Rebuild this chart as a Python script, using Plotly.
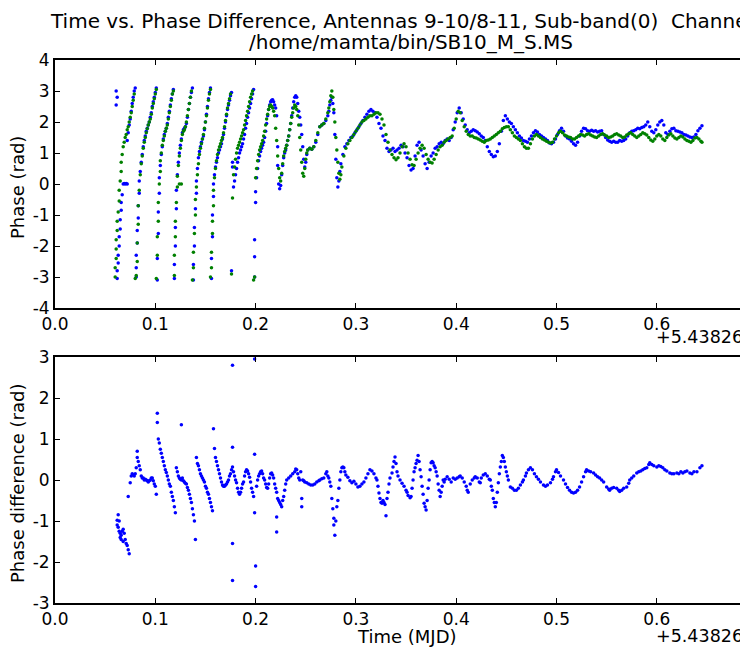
import plotly.graph_objects as go

# ---------------- data ----------------
# Top panel: phase of baseline 9-10 (blue) and 8-11 (green), time offset from 5.43826e4 MJD
blue_time = [
    # ramp 1
    0.061, 0.061, 0.062, 0.062, 0.062, 0.063, 0.063, 0.064, 0.064, 0.065,
    0.065, 0.066, 0.066, 0.067, 0.068, 0.069, 0.070, 0.071, 0.072, 0.072,
    0.073, 0.074, 0.075, 0.076, 0.077, 0.078, 0.079, 0.080,
    # ramp 2
    0.081, 0.081, 0.081, 0.082, 0.082, 0.083, 0.083, 0.084, 0.084, 0.085,
    0.086, 0.087, 0.088, 0.089, 0.090, 0.091, 0.092, 0.093, 0.094, 0.095,
    0.096, 0.097, 0.098, 0.099, 0.100, 0.101,
    # ramp 3
    0.102, 0.102, 0.103, 0.103, 0.104, 0.104, 0.105, 0.106, 0.107, 0.108,
    0.109, 0.110, 0.111, 0.112, 0.113, 0.114, 0.115, 0.116, 0.117, 0.118,
    # ramp 4
    0.119, 0.119, 0.120, 0.120, 0.121, 0.121, 0.122, 0.123, 0.124, 0.125,
    0.126, 0.127, 0.128, 0.129, 0.130, 0.131, 0.132, 0.133, 0.134, 0.135,
    0.136, 0.137,
    # ramp 5
    0.138, 0.138, 0.139, 0.139, 0.140, 0.141, 0.141, 0.142, 0.143, 0.144,
    0.145, 0.146, 0.147, 0.148, 0.149, 0.150, 0.151, 0.152, 0.153, 0.154,
    0.155,
    # ramp 6
    0.156, 0.156, 0.157, 0.157, 0.158, 0.158, 0.159, 0.160, 0.161, 0.162,
    0.163, 0.164, 0.165, 0.166, 0.167, 0.168, 0.169, 0.170, 0.171, 0.172,
    0.173, 0.174, 0.175, 0.176,
    # ramp 7
    0.176, 0.177, 0.177, 0.178, 0.179, 0.180, 0.181, 0.182, 0.183, 0.184,
    0.185, 0.186, 0.187, 0.188, 0.189, 0.190, 0.191, 0.192, 0.193, 0.194,
    0.195, 0.196, 0.197, 0.198,
    # ramp 8 and first swings
    0.199, 0.199, 0.199, 0.200, 0.200, 0.201, 0.202, 0.203, 0.204, 0.205,
    0.206, 0.207, 0.208, 0.209, 0.210, 0.211, 0.212, 0.213, 0.214, 0.215,
    0.216, 0.217, 0.218, 0.219, 0.220, 0.221, 0.222, 0.222, 0.223, 0.224,
    0.225, 0.226, 0.227, 0.228, 0.229, 0.230, 0.231, 0.232, 0.233, 0.234,
    0.235, 0.236, 0.237, 0.238, 0.239, 0.240, 0.241, 0.242, 0.243,
    0.244, 0.245, 0.246, 0.247, 0.248, 0.249, 0.250, 0.251, 0.252,
    0.254, 0.256, 0.258, 0.260, 0.262, 0.264, 0.266, 0.268, 0.270, 0.272,
    0.273, 0.274, 0.275, 0.276, 0.277, 0.278, 0.279, 0.280, 0.281, 0.282,
    0.283, 0.284, 0.285,
    # smooth part
    0.287, 0.289, 0.291, 0.293, 0.295, 0.297, 0.299, 0.301, 0.303, 0.305,
    0.307, 0.309, 0.311, 0.313, 0.315, 0.317, 0.319, 0.321, 0.323, 0.325,
    0.327, 0.329, 0.331, 0.333, 0.335, 0.337, 0.339, 0.341, 0.343, 0.345,
    0.347, 0.349, 0.351, 0.353, 0.355, 0.357, 0.359, 0.361, 0.363, 0.365,
    0.367, 0.369, 0.371, 0.373, 0.375, 0.377, 0.379, 0.381, 0.383, 0.385,
    0.387, 0.389, 0.391, 0.393, 0.395, 0.397, 0.399, 0.401, 0.403, 0.405,
    0.407, 0.409, 0.411, 0.413, 0.415, 0.417, 0.419, 0.421, 0.423, 0.425,
    0.427, 0.429, 0.431, 0.433, 0.435, 0.437, 0.439, 0.441, 0.443, 0.445,
    0.447, 0.449, 0.451, 0.453, 0.455, 0.457, 0.459, 0.461, 0.463, 0.465,
    0.467, 0.469, 0.471, 0.473, 0.475, 0.477, 0.479, 0.481, 0.483, 0.485,
    0.487, 0.489, 0.491, 0.493, 0.495, 0.497, 0.499, 0.501, 0.503, 0.505,
    0.507, 0.509, 0.511, 0.513, 0.515, 0.517, 0.519, 0.521, 0.523, 0.525,
    0.527, 0.529, 0.531, 0.533, 0.535, 0.537, 0.539, 0.541, 0.543, 0.545,
    0.547, 0.549, 0.551, 0.553, 0.555, 0.557, 0.559, 0.561, 0.563, 0.565,
    0.567, 0.569, 0.571, 0.573, 0.575, 0.577, 0.579, 0.581, 0.583, 0.585,
    0.587, 0.589, 0.591, 0.593, 0.595, 0.597, 0.599, 0.601, 0.603, 0.605,
    0.607, 0.609, 0.611, 0.613, 0.615, 0.617, 0.619, 0.621, 0.623, 0.625,
    0.627, 0.629, 0.631, 0.633, 0.635, 0.637, 0.639, 0.641, 0.643, 0.645,
]
blue_phase = [
    3.0, 2.55, 2.8, -3.05, -2.8, -2.55, -2.3, -2.0, -1.7, -1.45,
    -1.15, -0.85, -0.6, -0.35, 0.0, 0.02, 0.0, 0.02, 0.0, 1.4,
    1.65, 1.9, 2.1, 2.35, 2.6, 2.8, 3.0, 3.1,
    -3.0, -2.7, -2.3, -1.9, -1.5, -1.1, -0.7, -0.3, 0.1, 0.4,
    0.7, 0.95, 1.2, 1.4, 1.55, 1.7, 1.8, 1.9, 2.0, 2.15,
    2.3, 2.5, 2.65, 2.8, 2.95, 3.1,
    -3.1, -2.4, -1.6, -0.9, -0.3, 0.2, 0.6, 0.95, 1.2, 1.45,
    1.6, 1.7, 1.8, 1.95, 2.15, 2.35, 2.55, 2.75, 2.9, 3.05,
    -3.05, -2.6, -2.0, -1.4, -0.8, -0.2, 0.3, 0.7, 1.0, 1.25,
    1.45, 1.65, 1.75, 1.8, 1.85, 1.95, 2.15, 2.4, 2.6, 2.8,
    2.95, 3.1,
    -3.1, -2.6, -2.0, -1.4, -0.8, -0.3, 0.1, 0.5, 0.85, 1.05,
    1.2, 1.35, 1.45, 1.55, 1.75, 2.0, 2.25, 2.5, 2.75, 2.95,
    3.1,
    -3.05, -2.4, -1.7, -1.0, -0.4, 0.0, 0.3, 0.55, 0.7, 0.85,
    1.0, 1.1, 1.2, 1.3, 1.45, 1.6, 1.8, 2.0, 2.2, 2.4,
    2.55, 2.7, 2.85, 2.95,
    -2.8, 0.7, 0.55, -0.1, 0.1, 0.3, 0.5, 0.7, 0.85, 1.0,
    1.1, 1.2, 1.3, 1.45, 1.6, 1.8, 1.95, 2.15, 2.3, 2.45,
    2.6, 2.75, 2.9, 3.05,
    -3.0, -2.35, -1.8, -0.6, -0.25, 0.2, 0.5, 0.75, 0.9, 1.05,
    1.15, 1.25, 1.35, 1.5, 1.7, 1.95, 2.2, 2.4, 2.55, 2.65,
    2.7, 2.72, 2.65, 2.55, 2.45, 2.2, 1.2, 0.6, 0.0, -0.15,
    -0.05, 0.3, 0.6, 0.85, 1.0, 1.1, 1.25, 1.4, 1.55, 1.75,
    1.95, 2.2, 2.45, 2.65, 2.8, 2.85, 2.8, 2.6, 2.35,
    2.15, 1.9, 1.6, 1.2, 0.8, 0.55, 0.7, 0.95, 1.1,
    1.15, 1.12, 1.2, 1.35, 1.6, 1.85, 1.9, 1.95, 2.05, 2.2,
    2.35, 2.55, 2.7, 2.8, 2.6, 2.3, 1.6, 0.8, 0.2, -0.1,
    0.1, 0.4, 0.65,
    0.95, 1.2, 1.3, 1.4, 1.5, 1.55, 1.65, 1.75, 1.85, 1.95,
    2.05, 2.15, 2.25, 2.35, 2.4, 2.35, 2.3, 2.15, 1.95, 1.8,
    1.55, 1.4, 1.15, 1.05, 1.1, 1.15, 1.05, 1.1, 1.15, 1.25,
    1.2, 1.0, 0.85, 0.6, 0.45, 0.5, 0.9, 1.25, 1.35, 1.1,
    0.9, 0.65, 0.5, 0.7, 0.9, 1.0, 1.15, 1.2, 1.3, 1.35,
    1.3, 1.4, 1.45, 1.4, 1.5, 1.75, 2.0, 2.3, 2.45, 2.3,
    2.1, 1.9, 1.75, 1.65, 1.7, 1.75, 1.72, 1.68, 1.62, 1.55,
    1.5, 1.4, 1.2, 1.05, 0.95, 0.88, 0.9, 1.05, 1.3, 1.7,
    2.05, 2.2, 2.1, 2.0, 1.95, 1.85, 1.75, 1.65, 1.55, 1.48,
    1.4, 1.38, 1.35, 1.45, 1.55, 1.65, 1.72, 1.68, 1.6, 1.55,
    1.5, 1.45, 1.4, 1.32, 1.3, 1.35, 1.45, 1.6, 1.72, 1.8,
    1.7, 1.55, 1.48, 1.45, 1.38, 1.3, 1.25, 1.35, 1.55, 1.7,
    1.8, 1.78, 1.72, 1.7, 1.73, 1.7, 1.72, 1.68, 1.7, 1.72,
    1.6, 1.5, 1.42, 1.38, 1.35, 1.38, 1.35, 1.35, 1.4, 1.38,
    1.4, 1.45, 1.55, 1.65, 1.7, 1.72, 1.75, 1.8, 1.78, 1.82,
    1.85, 1.9, 2.0, 1.85, 1.7, 1.65, 1.75, 1.9, 2.0, 2.05,
    1.9, 1.65, 1.6, 1.7, 1.78, 1.8, 1.72, 1.7, 1.68, 1.65,
    1.6, 1.58, 1.55, 1.52, 1.5, 1.52, 1.6, 1.72, 1.8, 1.88,
]

green_time = [
    0.060, 0.060, 0.061, 0.061, 0.061, 0.062, 0.062, 0.063, 0.064, 0.064,
    0.065, 0.066, 0.066, 0.067, 0.068, 0.069, 0.070, 0.071, 0.072, 0.073,
    0.074, 0.075, 0.076, 0.077, 0.078, 0.079,
    0.080, 0.081, 0.082, 0.082, 0.083, 0.083, 0.084, 0.085, 0.086, 0.087,
    0.088, 0.089, 0.090, 0.091, 0.092, 0.093, 0.094, 0.095, 0.096, 0.097,
    0.098, 0.099, 0.100, 0.101,
    0.101, 0.102, 0.102, 0.103, 0.103, 0.104, 0.105, 0.105, 0.106, 0.107,
    0.108, 0.109, 0.110, 0.111, 0.112, 0.113, 0.114, 0.115, 0.116, 0.117,
    0.118,
    0.119, 0.119, 0.120, 0.120, 0.121, 0.122, 0.122, 0.123, 0.124, 0.124,
    0.125, 0.126, 0.126, 0.127, 0.128, 0.129, 0.130, 0.131, 0.132, 0.133,
    0.134, 0.135, 0.136,
    0.137, 0.138, 0.138, 0.139, 0.140, 0.140, 0.141, 0.142, 0.143, 0.144,
    0.145, 0.146, 0.147, 0.148, 0.149, 0.150, 0.151, 0.152, 0.153, 0.154,
    0.155,
    0.155, 0.156, 0.156, 0.157, 0.157, 0.158, 0.158, 0.159, 0.160, 0.161,
    0.162, 0.163, 0.164, 0.165, 0.166, 0.167, 0.168, 0.169, 0.170, 0.171,
    0.172, 0.173, 0.174, 0.175,
    0.176, 0.177, 0.178, 0.179, 0.180, 0.181, 0.182, 0.183, 0.184, 0.185,
    0.186, 0.187, 0.188, 0.189, 0.190, 0.191, 0.192, 0.193, 0.194, 0.195,
    0.196, 0.197,
    0.198, 0.199, 0.200, 0.201, 0.202, 0.203, 0.204, 0.205, 0.206, 0.207,
    0.208, 0.209, 0.210, 0.211, 0.212, 0.213, 0.214, 0.215, 0.216, 0.217,
    0.218, 0.219, 0.220, 0.221, 0.222, 0.223, 0.224, 0.225, 0.226, 0.227,
    0.228, 0.229, 0.230, 0.231, 0.232, 0.233, 0.234, 0.235, 0.236, 0.237,
    0.238, 0.239, 0.240, 0.241, 0.242, 0.243, 0.244, 0.245, 0.246, 0.247,
    0.248, 0.249,
    0.250, 0.251, 0.252, 0.254, 0.256, 0.258, 0.260, 0.262, 0.264, 0.266,
    0.268, 0.270, 0.272, 0.273, 0.274, 0.275, 0.276, 0.277, 0.278, 0.279,
    0.280, 0.281, 0.282, 0.283, 0.284, 0.285, 0.286,
    0.288, 0.290, 0.292, 0.294, 0.296, 0.298, 0.300, 0.302, 0.304, 0.306,
    0.308, 0.310, 0.312, 0.314, 0.316, 0.318, 0.320, 0.322, 0.324, 0.326,
    0.328, 0.330, 0.332, 0.334, 0.336, 0.338, 0.340, 0.342, 0.344, 0.346,
    0.348, 0.350, 0.352, 0.354, 0.356, 0.358, 0.360, 0.362, 0.364, 0.366,
    0.368, 0.370, 0.372, 0.374, 0.376, 0.378, 0.380, 0.382, 0.384, 0.386,
    0.388, 0.390, 0.392, 0.394, 0.396, 0.398, 0.400, 0.402, 0.404, 0.406,
    0.408, 0.410, 0.412, 0.414, 0.416, 0.418, 0.420, 0.422, 0.424, 0.426,
    0.428, 0.430, 0.432, 0.434, 0.436, 0.438, 0.440, 0.442, 0.444, 0.446,
    0.448, 0.450, 0.452, 0.454, 0.456, 0.458, 0.460, 0.462, 0.464, 0.466,
    0.468, 0.470, 0.472, 0.474, 0.476, 0.478, 0.480, 0.482, 0.484, 0.486,
    0.488, 0.490, 0.492, 0.494, 0.496, 0.498, 0.500, 0.502, 0.504, 0.506,
    0.508, 0.510, 0.512, 0.514, 0.516, 0.518, 0.520, 0.522, 0.524, 0.526,
    0.528, 0.530, 0.532, 0.534, 0.536, 0.538, 0.540, 0.542, 0.544, 0.546,
    0.548, 0.550, 0.552, 0.554, 0.556, 0.558, 0.560, 0.562, 0.564, 0.566,
    0.568, 0.570, 0.572, 0.574, 0.576, 0.578, 0.580, 0.582, 0.584, 0.586,
    0.588, 0.590, 0.592, 0.594, 0.596, 0.598, 0.600, 0.602, 0.604, 0.606,
    0.608, 0.610, 0.612, 0.614, 0.616, 0.618, 0.620, 0.622, 0.624, 0.626,
    0.628, 0.630, 0.632, 0.634, 0.636, 0.638, 0.640, 0.642, 0.644, 0.645,
]
green_phase = [
    -3.0, -2.7, -2.4, -2.1, -1.8, -1.5, -1.2, -0.9, -0.55, -0.2,
    0.1, 0.4, 0.7, 0.95, 1.2, 1.35, 1.5, 1.6, 1.75, 1.85,
    2.0, 2.15, 2.3, 2.5, 2.7, 2.9,
    -3.05, -2.95, -2.5, -1.9, -1.3, -0.7, -0.2, 0.3, 0.65, 0.9,
    1.15, 1.35, 1.5, 1.65, 1.78, 1.9, 2.0, 2.1, 2.25, 2.45,
    2.6, 2.75, 2.9, 3.05,
    -3.05, -2.3, -1.7, -1.2, -0.6, 0.0, 0.4, 0.75, 1.0, 1.25,
    1.4, 1.55, 1.7, 1.8, 1.9, 2.1, 2.3, 2.5, 2.7, 2.9,
    3.0,
    -2.95, -2.3, -1.7, -1.2, -0.6, -0.1, 0.25, 0.6, 0.9, 0.0,
    1.15, 1.4, 0.0, 1.6, 1.7, 1.75, 1.85, 2.0, 2.2, 2.4,
    2.6, 2.8, 3.0,
    -3.1, -2.7, -2.2, -1.6, -1.0, -0.5, -0.1, 0.3, 0.65, 0.95,
    1.15, 1.3, 1.45, 1.6, 1.8, 2.0, 2.2, 2.45, 2.7, 2.9,
    3.05,
    -3.0, -2.7, -2.2, -1.6, -1.2, -0.7, -0.2, 0.2, 0.5, 0.75,
    0.95, 1.1, 1.2, 1.3, 1.4, 1.5, 1.65, 1.85, 2.05, 2.25,
    2.45, 2.6, 2.75, 2.9,
    -2.9, -0.45, 0.3, 0.55, 0.8, 1.0, 1.15, 1.25, 1.35, 1.45,
    1.55, 1.65, 1.75, 1.9, 2.05, 2.2, 2.35, 2.5, 2.65, 2.8,
    2.9, 3.0,
    -3.1, -3.0, 0.2, 0.5, 0.75, 0.95, 1.1, 1.2, 1.3, 1.4,
    1.55, 1.7, 1.9, 2.1, 2.25, 2.4, 2.5, 2.55, 2.5, 2.45,
    2.35, 2.2, 1.8, 1.4, 0.9, 0.5, 0.2, 0.1, 0.35, 0.65,
    0.9, 1.05, 1.15, 1.25, 1.4, 1.55, 1.75, 1.95, 2.15, 2.3,
    2.45, 2.55, 2.5, 2.4, 2.2, 1.9, 1.5, 1.1, 0.7, 0.35,
    0.25, 0.5,
    0.8, 1.0, 1.1, 1.15, 1.12, 1.2, 1.4, 1.65, 1.85, 1.9,
    1.95, 2.1, 2.3, 2.45, 2.65, 2.85, 3.0, 2.8, 2.4, 2.0,
    1.5, 1.1, 0.7, 0.35, 0.15, 0.3, 0.55,
    0.9, 1.15, 1.3, 1.4, 1.5, 1.6, 1.7, 1.8, 1.9, 2.0,
    2.05, 2.1, 2.15, 2.2, 2.2, 2.25, 2.3, 2.3, 2.25, 2.1,
    1.9, 1.6, 1.35, 1.1, 0.95, 0.85, 0.78, 0.85, 1.0, 1.2,
    1.3, 1.2, 1.0, 0.8, 0.62, 0.6, 0.8, 1.0, 1.15, 1.25,
    1.15, 0.95, 0.8, 0.7, 0.68, 0.8, 0.95, 1.1, 1.2, 1.25,
    1.35, 1.4, 1.45, 1.5, 1.55, 1.8, 2.1, 2.35, 2.3, 2.05,
    1.85, 1.7, 1.6, 1.55, 1.55, 1.5, 1.48, 1.45, 1.42, 1.38,
    1.35, 1.4, 1.42, 1.45, 1.5, 1.55, 1.6, 1.65, 1.7, 1.78,
    1.82, 1.85, 1.85, 1.75, 1.65, 1.55, 1.5, 1.45, 1.4, 1.3,
    1.2, 1.15, 1.15, 1.3, 1.45, 1.55, 1.6, 1.55, 1.5, 1.45,
    1.42, 1.38, 1.35, 1.32, 1.35, 1.45, 1.55, 1.65, 1.7, 1.65,
    1.58, 1.55, 1.52, 1.5, 1.45, 1.45, 1.5, 1.55, 1.6, 1.58,
    1.55, 1.6, 1.62, 1.58, 1.55, 1.52, 1.5, 1.55, 1.6, 1.62,
    1.58, 1.55, 1.5, 1.52, 1.55, 1.6, 1.62, 1.58, 1.55, 1.5,
    1.52, 1.58, 1.62, 1.65, 1.6, 1.55, 1.5, 1.55, 1.6, 1.65,
    1.62, 1.58, 1.5, 1.42, 1.38, 1.45, 1.55, 1.6, 1.55, 1.45,
    1.4, 1.5, 1.58, 1.62, 1.55, 1.48, 1.45, 1.5, 1.55, 1.52,
    1.45, 1.4, 1.38, 1.35, 1.4, 1.48, 1.5, 1.45, 1.38, 1.35,
]

# Bottom panel: phase difference
diff_time = [
    0.062, 0.062, 0.063, 0.063, 0.064, 0.064, 0.065, 0.065, 0.066, 0.066,
    0.067, 0.068, 0.068, 0.069, 0.070, 0.071, 0.072, 0.073, 0.073, 0.074,
    0.075, 0.076, 0.077, 0.078, 0.079, 0.080, 0.081, 0.082, 0.082, 0.083,
    0.084, 0.085, 0.086, 0.087, 0.088, 0.089, 0.090, 0.091, 0.092, 0.093,
    0.094, 0.095, 0.096, 0.097, 0.098, 0.099, 0.100, 0.101,
    0.102, 0.102, 0.103, 0.104, 0.105, 0.106, 0.107, 0.108, 0.109, 0.110,
    0.111, 0.112, 0.113, 0.114, 0.115, 0.116, 0.117, 0.118, 0.119, 0.120,
    0.121, 0.122, 0.123, 0.124, 0.125, 0.126, 0.126, 0.127, 0.128, 0.129,
    0.130, 0.131, 0.132, 0.133, 0.134, 0.135, 0.136, 0.137, 0.138, 0.139,
    0.140,
    0.141, 0.142, 0.143, 0.144, 0.145, 0.146, 0.147, 0.148, 0.149, 0.150,
    0.151, 0.152, 0.153, 0.154, 0.155, 0.156, 0.157,
    0.158, 0.159, 0.160, 0.161, 0.162, 0.163, 0.164, 0.165, 0.166, 0.167,
    0.168, 0.169, 0.170, 0.171, 0.172, 0.173, 0.174, 0.175, 0.176, 0.177,
    0.177, 0.177, 0.177, 0.177,
    0.178, 0.179, 0.180, 0.181, 0.182, 0.183, 0.184, 0.185, 0.186, 0.187,
    0.188, 0.189, 0.190, 0.191, 0.192, 0.193, 0.194, 0.195, 0.196, 0.197,
    0.198,
    0.199, 0.199, 0.199, 0.200, 0.200, 0.201, 0.202, 0.203, 0.204, 0.205,
    0.206, 0.207, 0.208, 0.209, 0.210, 0.211, 0.212, 0.213, 0.214, 0.215,
    0.216, 0.217, 0.218, 0.219, 0.220, 0.221, 0.221, 0.221, 0.222, 0.223,
    0.224, 0.225, 0.226, 0.227, 0.228, 0.229, 0.230, 0.231,
    0.233, 0.235, 0.237, 0.239, 0.240, 0.241, 0.242, 0.243, 0.244, 0.245,
    0.246, 0.246, 0.247, 0.248, 0.249, 0.251, 0.253, 0.255, 0.257, 0.259,
    0.261, 0.263, 0.264, 0.266, 0.268, 0.270, 0.271, 0.272, 0.273, 0.274,
    0.275, 0.276, 0.277, 0.278, 0.278, 0.279, 0.280, 0.281, 0.282, 0.283,
    0.284, 0.285, 0.286, 0.287, 0.288, 0.289, 0.290,
    0.292, 0.294, 0.296, 0.298, 0.300, 0.302, 0.304, 0.306, 0.308, 0.310,
    0.312, 0.314, 0.316, 0.318, 0.320, 0.321, 0.322, 0.323, 0.324, 0.325,
    0.326, 0.327, 0.328, 0.329, 0.330, 0.331, 0.332, 0.333, 0.334, 0.336,
    0.337, 0.338, 0.339, 0.340, 0.341, 0.342, 0.344,
    0.346, 0.348, 0.350, 0.351, 0.352, 0.354, 0.355, 0.356, 0.357, 0.358,
    0.359, 0.360, 0.361, 0.362, 0.363, 0.364, 0.365, 0.366, 0.367, 0.368,
    0.369, 0.370, 0.371, 0.372, 0.373, 0.374, 0.375, 0.376, 0.377, 0.378,
    0.379, 0.380, 0.381, 0.382, 0.383, 0.384, 0.385, 0.386, 0.387, 0.388,
    0.389, 0.391, 0.393, 0.395, 0.397, 0.399, 0.401, 0.403, 0.404,
    0.406, 0.408, 0.410, 0.411, 0.412, 0.414, 0.416, 0.418, 0.419, 0.421,
    0.423, 0.424, 0.425, 0.427, 0.429, 0.431, 0.433, 0.434, 0.435, 0.436,
    0.437, 0.438, 0.439, 0.440, 0.441, 0.442, 0.443, 0.444, 0.445, 0.446,
    0.447, 0.448, 0.449, 0.450, 0.451, 0.452,
    0.454, 0.456, 0.458, 0.460, 0.462, 0.464, 0.466, 0.467, 0.469, 0.470,
    0.472, 0.474, 0.476, 0.478, 0.480, 0.482, 0.484, 0.487, 0.489, 0.491,
    0.494, 0.496, 0.497, 0.499, 0.500, 0.502, 0.504, 0.507, 0.509, 0.511,
    0.513, 0.515, 0.517, 0.519, 0.521, 0.523, 0.525, 0.527, 0.529, 0.530,
    0.532, 0.534, 0.537, 0.539, 0.541, 0.543, 0.545,
    0.547, 0.550, 0.552, 0.553, 0.555, 0.557, 0.560, 0.562, 0.563, 0.565,
    0.567, 0.570, 0.572, 0.573, 0.575, 0.577, 0.580, 0.582, 0.584, 0.586,
    0.588, 0.590, 0.592, 0.593, 0.595, 0.597, 0.600, 0.602, 0.604, 0.606,
    0.608, 0.610, 0.613, 0.615, 0.617, 0.620, 0.622, 0.624, 0.626, 0.628,
    0.630, 0.633, 0.635, 0.637, 0.640, 0.643, 0.645,
]
diff_phase = [
    -0.98, -1.1, -0.85, -1.15, -1.0, -1.25, -1.3, -1.4, -1.45, -1.35,
    -1.25, -1.2, -1.5, -1.3, -1.45, -1.55, -1.6, -0.4, -1.7, -1.8,
    -0.07, 0.1, 0.15, 0.12, 0.1, 0.15, 0.3, 0.7, 0.55, 0.45,
    0.35, 0.25, 0.1, 0.05, 0.05, 0.0, 0.02, 0.0, -0.02, -0.05,
    -0.02, 0.0, 0.05, 0.05, -0.02, -0.1, -0.15, -0.35,
    1.63, 1.4, 1.0, 0.9, 0.75, 0.65, 0.55, 0.45, 0.35, 0.25,
    0.18, 0.1, 0.0, -0.1, -0.15, -0.3, -0.4, -0.5, -0.65, -0.8,
    0.3, 0.2, 0.1, 0.05, 0.02, 1.35, 0.0, 0.05, -0.02, -0.05,
    -0.08, -0.1, -0.18, -0.25, -0.35, -0.45, -0.55, -0.7, -0.85, -1.0,
    -1.45,
    0.55, 0.4, 0.35, 0.25, 0.15, 0.1, 0.05, 0.0, -0.05, -0.15,
    -0.2, -0.3, -0.35, -0.45, -0.55, -0.65, -0.75,
    1.25, 0.77, 0.55, 0.45, 0.35, 0.25, 0.15, 0.05, -0.05, -0.12,
    -0.15, -0.15, -0.12, -0.1, -0.05, 0.0, 0.1, 0.15, 0.25, 0.32,
    2.8, 0.8, -1.55, -2.45,
    0.2, 0.1, 0.0, -0.07, -0.2, -0.3, -0.35, -0.3, -0.2, -0.1,
    -0.05, 0.1, 0.2, 0.25, 0.22, 0.15, 0.07, -0.05, -0.2, -0.3,
    -0.4,
    -0.8, 2.95, 0.63, -2.1, -2.6, -0.15, 0.0, 0.1, 0.15, 0.2,
    0.22, 0.15, 0.05, 0.0, -0.1, -0.18, -0.2, -0.1, 0.05, 0.15,
    0.17, 0.12, 0.05, -0.1, -0.2, -0.3, -0.9, -1.27, -0.45, -0.5,
    -0.55, -0.6, -0.65, -0.5, -0.4, -0.25, -0.1, 0.0,
    0.05, 0.1, 0.15, 0.2, 0.27, 0.25, 0.15, 0.05, 0.0, 0.2,
    -0.45, -0.65, 0.0, -0.02, -0.05, -0.07, -0.1, -0.12, -0.12, -0.1,
    -0.05, -0.02, 0.0, 0.03, 0.05, 0.15, 0.2, 0.1, 0.05, -0.05,
    -0.15, -0.45, -0.7, -0.93, -1.1, -1.35, -1.0, -0.65, -0.5, -0.2,
    0.0, 0.2, 0.3, 0.32, 0.3, 0.2, 0.12,
    0.07, -0.02, -0.07, -0.03, -0.1, -0.17, -0.15, -0.1, -0.05, 0.05,
    0.15, 0.25, 0.22, 0.15, 0.05, 0.0, -0.15, -0.32, -0.45, -0.55,
    -0.57, -0.5, -0.55, -0.6, -0.87, -0.45, -0.3, -0.1, 0.05, 0.17,
    0.32, 0.45, 0.56, 0.4, 0.2, 0.1, 0.0,
    -0.08, -0.15, -0.25, -0.3, -0.38, -0.43, -0.4, -0.2, 0.0, 0.2,
    0.3, 0.4, 0.48, 0.6, 0.45, 0.25, 0.08, -0.15, -0.35, -0.57,
    -0.65, -0.73, -0.5, -0.2, 0.0, 0.25, 0.42, 0.45, 0.42, 0.35,
    0.3, 0.2, 0.1, -0.1, -0.25, -0.4, -0.3, -0.15, 0.0, -0.05,
    0.02, 0.08, 0.02, -0.05, 0.05, 0.02, 0.05, 0.08, 0.1,
    0.05, -0.05, -0.15, -0.25, -0.3, -0.1, 0.0, 0.05, 0.08, 0.05,
    -0.05, -0.07, 0.05, 0.12, 0.15, 0.1, 0.02, 0.0, -0.15, -0.25,
    -0.45, -0.55, -0.65, -0.55, -0.3, -0.07, 0.15, 0.32, 0.45, 0.6,
    0.55, 0.45, 0.32, 0.2, 0.1, 0.0,
    -0.17, -0.2, -0.25, -0.25, -0.2, -0.12, -0.05, 0.0, 0.1, 0.17,
    0.25, 0.3, 0.25, 0.15, 0.08, 0.02, -0.05, -0.12, -0.15, -0.12,
    -0.07, 0.02, 0.08, 0.2, 0.25, 0.18, 0.1, 0.0, -0.1, -0.18,
    -0.25, -0.3, -0.32, -0.3, -0.25, -0.17, -0.05, 0.08, 0.2, 0.25,
    0.22, 0.2, 0.17, 0.12, 0.08, 0.05, 0.0,
    -0.05, -0.17, -0.22, -0.25, -0.2, -0.18, -0.2, -0.25, -0.28, -0.25,
    -0.2, -0.17, -0.08, 0.0, 0.05, 0.1, 0.17, 0.2, 0.22, 0.25,
    0.28, 0.3, 0.38, 0.42, 0.38, 0.35, 0.32, 0.35, 0.33, 0.3,
    0.25, 0.22, 0.17, 0.15, 0.15, 0.17, 0.15, 0.2, 0.17, 0.2,
    0.22, 0.17, 0.15, 0.2, 0.2, 0.3, 0.35,
]

x_ticks = [0.0, 0.1, 0.2, 0.3, 0.4, 0.5, 0.6]
x_tick_labels = ["0.0", "0.1", "0.2", "0.3", "0.4", "0.5", "0.6"]
top_y_ticks = [-4, -3, -2, -1, 0, 1, 2, 3, 4]
top_y_labels = ["-4", "-3", "-2", "-1", "0", "1", "2", "3", "4"]
bot_y_ticks = [-3, -2, -1, 0, 1, 2, 3]
bot_y_labels = ["-3", "-2", "-1", "0", "1", "2", "3"]

title_line1 = "Time vs. Phase Difference, Antennas 9-10/8-11, Sub-band(0)  Channel(0)"
title_line2 = "/home/mamta/bin/SB10_M_S.MS"
offset_text = "+5.43826e4"

# ---------------- figure ----------------
FONT = "DejaVu Sans"
W, H = 740, 650
ML, MR, MT, MB = 55, 0, 60, 47
PH = H - MT - MB
PW = W - ML - MR
top_domain = [1 - 248 / PH, 1]
bot_domain = [0, 1 - 297 / PH]

fig = go.Figure()
mk = dict(size=3.5, line=dict(width=0))
fig.add_trace(go.Scatter(x=blue_time, y=blue_phase, mode="markers",
                         marker=dict(color="#0000ff", **mk), xaxis="x", yaxis="y",
                         showlegend=False, hoverinfo="skip"))
fig.add_trace(go.Scatter(x=green_time, y=green_phase, mode="markers",
                         marker=dict(color="#008000", **mk), xaxis="x", yaxis="y",
                         showlegend=False, hoverinfo="skip"))
fig.add_trace(go.Scatter(x=diff_time, y=diff_phase, mode="markers",
                         marker=dict(color="#0000ff", **mk), xaxis="x2", yaxis="y2",
                         showlegend=False, hoverinfo="skip"))

x_range = [0.0, PW / 1003.0]
TICKFONT = dict(family=FONT, size=17, color="black")
xcommon = dict(range=x_range, tickvals=x_ticks, ticktext=x_tick_labels,
               ticks="inside", ticklen=5, tickwidth=1, tickcolor="black",
               showline=True, linecolor="black", linewidth=1.8, mirror="ticks",
               showgrid=False, zeroline=False, tickfont=TICKFONT)
ycommon = dict(ticks="inside", ticklen=5, tickwidth=1, tickcolor="black",
               showline=True, linecolor="black", linewidth=1.8, mirror=False,
               showgrid=False, zeroline=False, tickfont=TICKFONT)

fig.update_layout(
    width=W, height=H,
    margin=dict(l=ML, r=MR, t=MT, b=MB, pad=0),
    paper_bgcolor="white", plot_bgcolor="white",
    font=dict(family=FONT, color="black"),
    xaxis=dict(domain=[0, 1], anchor="y", **xcommon),
    yaxis=dict(domain=top_domain, anchor="x", range=[-4, 4],
               tickvals=top_y_ticks, ticktext=top_y_labels, **ycommon),
    xaxis2=dict(domain=[0, 1], anchor="y2", **xcommon),
    yaxis2=dict(domain=bot_domain, anchor="x2", range=[-3, 3],
                tickvals=bot_y_ticks, ticktext=bot_y_labels, **ycommon),
)

def px_x(p):
    return (p - ML) / PW

def px_y(p):
    return 1 - (p - MT) / PH

ann = [
    dict(text=title_line1, x=px_x(415), y=px_y(20.5), font=dict(size=20)),
    dict(text=title_line2, x=px_x(411), y=px_y(42.5), font=dict(size=20)),
    dict(text="Phase (rad)", x=px_x(17), y=px_y(188), textangle=-90, font=dict(size=18)),
    dict(text="Phase difference (rad)", x=px_x(17), y=px_y(484), textangle=-90, font=dict(size=18)),
    dict(text="Time (MJD)", x=px_x(407), y=px_y(636), font=dict(size=18)),
    dict(text=offset_text, x=px_x(767), y=px_y(337), xanchor="right", font=dict(size=17.5)),
    dict(text=offset_text, x=px_x(767), y=px_y(636), xanchor="right", font=dict(size=17.5)),
]
for a in ann:
    a.setdefault("xanchor", "center")
    a.update(xref="paper", yref="paper", yanchor="middle", showarrow=False)
    a["font"] = dict(family=FONT, color="black", **a["font"])
fig.update_layout(annotations=ann)

fig.write_html("out.html")
